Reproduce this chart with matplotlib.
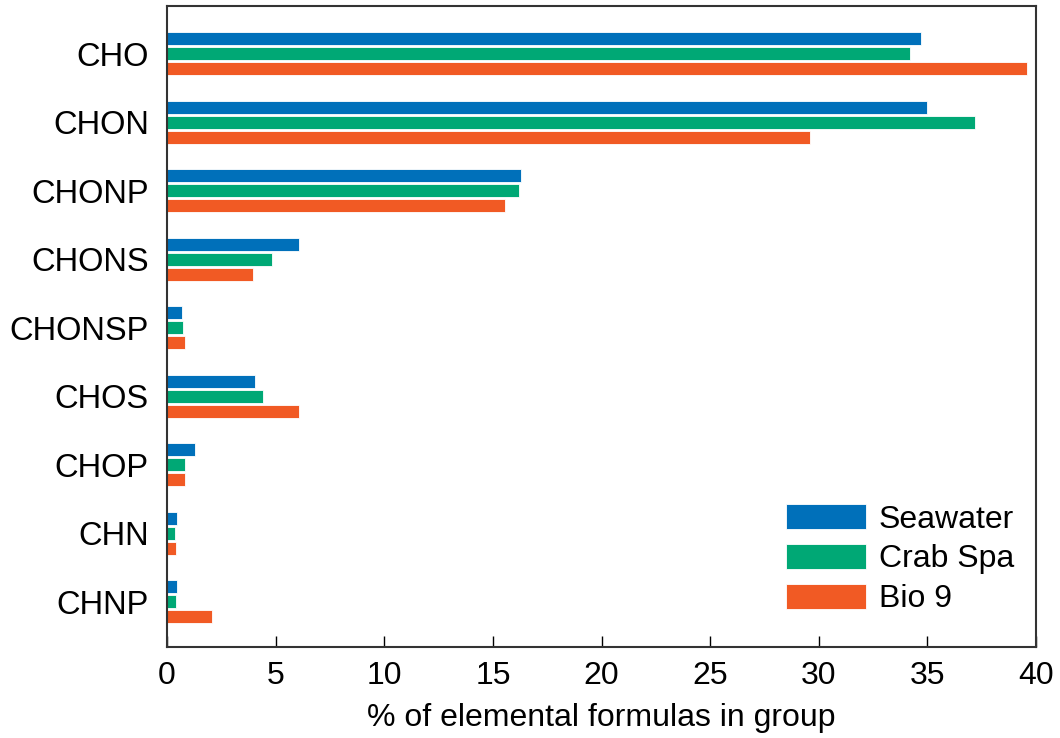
import numpy as np
import matplotlib.pyplot as plt

plt.rcParams['font.family'] = ['Liberation Sans', 'DejaVu Sans']

groups = ["CHO", "CHON", "CHONP", "CHONS", "CHONSP", "CHOS", "CHOP", "CHN", "CHNP"]
seawater = [34.7, 35.0, 16.3, 6.06, 0.67, 4.06, 1.29, 0.47, 0.47]
crab_spa = [34.2, 37.2, 16.2, 4.85, 0.74, 4.40, 0.84, 0.37, 0.40]
bio9 = [39.6, 29.6, 15.55, 3.97, 0.84, 6.06, 0.84, 0.43, 2.06]

series = [("Seawater", seawater, "#0070BA"),
          ("Crab Spa", crab_spa, "#00A875"),
          ("Bio 9", bio9, "#F15A24")]

fig = plt.figure(figsize=(10.6, 7.38), dpi=100)
ax = fig.add_axes([0.1575, 0.1233, 0.82, 0.8686])

y = np.arange(len(groups))
h = 0.19
step = 0.22
for i, (name, vals, col) in enumerate(series):
    ax.barh(y + (i - 1) * step, vals, height=h, color=col, label=name,
            edgecolor="white", linewidth=0.6)

ax.set_yticks(y)
ax.set_yticklabels(groups, fontsize=23.5)
ax.set_ylim(len(groups) - 1 + 0.66, -0.70)
ax.set_xlim(0, 40)
ax.set_xticks(np.arange(0, 41, 5))
ax.tick_params(axis="x", direction="in", length=8, labelsize=23, pad=10, width=1)
ax.tick_params(axis="y", length=0, pad=13)
ax.set_xlabel("% of elemental formulas in group", fontsize=23, labelpad=9)
for s in ax.spines.values():
    s.set_linewidth(1.5)
    s.set_color("#333333")

# legend rows sit close to the bottom right corner
ax.legend(loc="lower right", frameon=False, fontsize=23, handlelength=2.5,
          handleheight=0.8, handletextpad=0.4, labelspacing=0.3,
          borderaxespad=0.3, bbox_to_anchor=(1.0, 0.016))

fig.savefig("out.png", dpi=100)
